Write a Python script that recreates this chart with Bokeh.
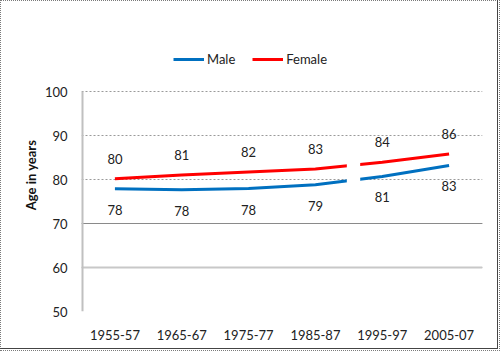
from bokeh.plotting import figure
from bokeh.models import (ColumnDataSource, FixedTicker, Span, BoxAnnotation, Legend, LegendItem)
from bokeh.core.properties import value
from bokeh.embed import file_html
from bokeh.resources import INLINE

periods = ["1955-57", "1965-67", "1975-77", "1985-87", "1995-97", "2005-07"]
male = [77.9, 77.65, 77.95, 78.8, 80.7, 83.2]
female = [80.15, 81.0, 81.7, 82.4, 83.9, 85.8]
male_labels = ["78", "78", "78", "79", "81", "83"]
female_labels = ["80", "81", "82", "83", "84", "86"]
yticks = [50, 60, 70, 80, 90, 100]
Y_MIN, Y_MAX = 50, 100

FONT = "Lato"
BLUE = "#0070C0"
RED = "#FF0000"

# layout (pixels)
W, H = 500, 351
LEFT, RIGHT, BOTTOM = 81, 18, 40
AXIS_TOP = 91          # where the value 100 sits
FRAME_TOP = 38         # frame extended upward to hold the legend
px_per_unit = (H - BOTTOM - AXIS_TOP) / (Y_MAX - Y_MIN)
y_end = Y_MIN + (H - BOTTOM - FRAME_TOP) / px_per_unit

xs = list(range(len(periods)))
src = ColumnDataSource(dict(x=xs, male=male, female=female,
                            ml=male_labels, fl=female_labels))

p = figure(width=W, height=H, output_backend="svg", toolbar_location=None,
           x_range=(-0.5, len(periods) - 0.5), y_range=(Y_MIN, y_end),
           min_border_left=LEFT, min_border_right=RIGHT, min_border_top=FRAME_TOP,
           min_border_bottom=BOTTOM)
p.outline_line_color = None
p.background_fill_color = "white"
p.border_fill_color = "white"

# grid
p.xgrid.grid_line_color = None
p.ygrid.ticker = FixedTicker(ticks=yticks)
p.ygrid.grid_line_color = "#9a9a9a"
p.ygrid.grid_line_dash = "2 2"
p.add_layout(Span(location=70, dimension="width", line_color="#8a8a8a", line_width=1, level="underlay"))
p.add_layout(Span(location=60, dimension="width", line_color="#c8c8c8", line_width=2, level="underlay"))

# axes
p.yaxis.ticker = FixedTicker(ticks=yticks)
p.yaxis.axis_line_color = None
p.yaxis.major_tick_line_color = None
p.yaxis.minor_tick_line_color = None
p.yaxis.major_label_text_font = FONT
p.yaxis.major_label_text_font_size = "13px"
p.yaxis.major_label_text_color = "#222222"
p.yaxis.major_label_standoff = 8
p.yaxis.axis_label = "Age in years"
p.yaxis.axis_label_text_font = FONT
p.yaxis.axis_label_text_font_size = "13px"
p.yaxis.axis_label_text_font_style = "bold"
p.yaxis.axis_label_text_color = "#111111"
p.yaxis.axis_label_standoff = 3
# visible value-axis line only spans 50..100
axl = p.segment(x0=[-0.5], x1=[-0.5], y0=[Y_MIN], y1=[Y_MAX], line_color="#c0c0c0", line_width=4)

p.xaxis.ticker = FixedTicker(ticks=xs)
p.xaxis.major_label_overrides = {i: s for i, s in enumerate(periods)}
p.xaxis.axis_line_color = None
p.xaxis.major_tick_line_color = None
p.xaxis.minor_tick_line_color = None
p.xaxis.major_label_text_font = FONT
p.xaxis.major_label_text_font_size = "13px"
p.xaxis.major_label_text_color = "#222222"
p.xaxis.major_label_standoff = 12

# lines
rm = p.line("x", "male", source=src, line_color=BLUE, line_width=3)
rf = p.line("x", "female", source=src, line_color=RED, line_width=3)

# break in the series between 1985-87 and 1995-97
p.add_layout(BoxAnnotation(left=3.47, right=3.67, bottom=78.9, top=84.5,
                           fill_color="white", fill_alpha=1, line_alpha=0, level="overlay"))
gap = p.segment(x0=[3.47], x1=[3.67], y0=[80], y1=[80], line_color="#9a9a9a",
                line_dash="2 2", line_width=1)
gap.level = "overlay"

# data labels
p.text("x", "female", text="fl", source=src, y_offset=-20, text_align="center",
       text_baseline="middle", text_font=value(FONT), text_font_size="13px",
       text_color="#222222")
p.text("x", "male", text="ml", source=src, y_offset=21, text_align="center",
       text_baseline="middle", text_font=value(FONT), text_font_size="13px",
       text_color="#222222")

legend = Legend(items=[LegendItem(label="Male", renderers=[rm]),
                       LegendItem(label="Female", renderers=[rf])],
                orientation="horizontal", location=(92, H - BOTTOM - 67),
                glyph_width=31, glyph_height=14, label_standoff=3, spacing=17,
                padding=0, margin=0, border_line_alpha=0, background_fill_alpha=0,
                label_text_font=FONT, label_text_font_size="13px",
                label_text_color="#222222")
p.add_layout(legend, "center")

html = file_html(p, INLINE)
frame_div = ('<div style="position:fixed;left:0;top:0;width:500px;height:351px;'
             'box-sizing:border-box;border:1px dotted #7a7a7a;'
             'pointer-events:none;z-index:10"></div>'
             '<div style="position:fixed;left:0;top:0;width:498px;height:349px;'
             'box-sizing:border-box;border-right:1px solid #444;border-bottom:1px solid #444;'
             'pointer-events:none;z-index:10"></div>')
html = html.replace("</body>", frame_div + "</body>")
open("out.html", "w").write(html)
